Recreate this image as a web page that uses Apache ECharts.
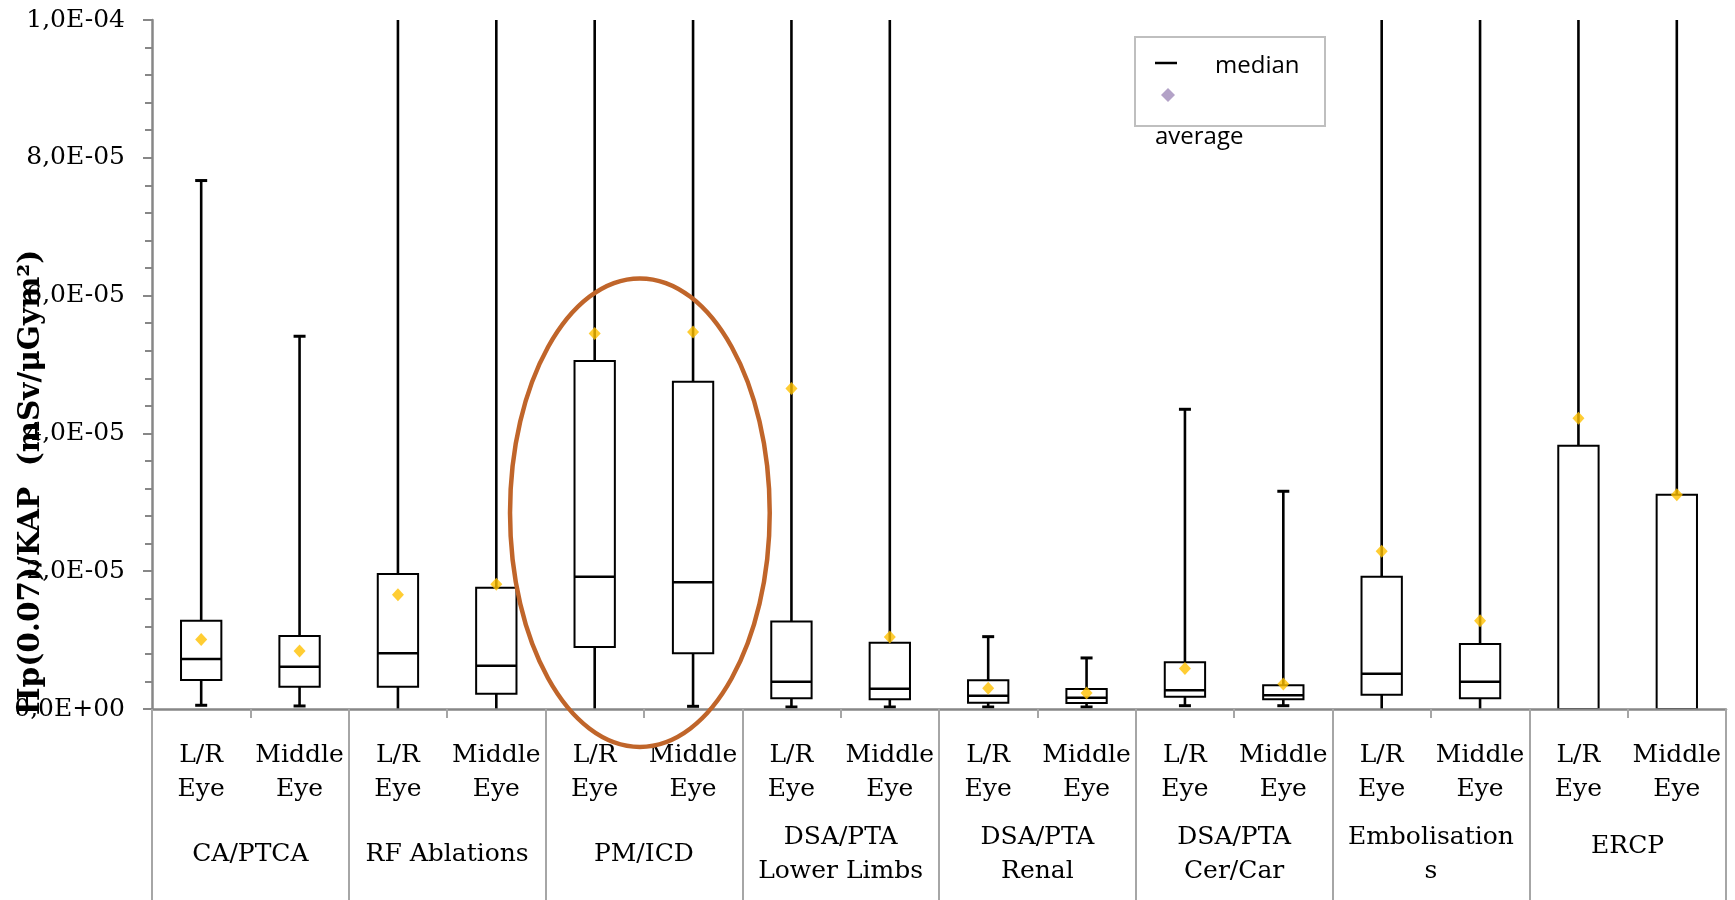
<!DOCTYPE html>
<html>
<head>
<meta charset="utf-8">
<script src="https://cdn.jsdelivr.net/npm/echarts@6/dist/echarts.min.js"></script>
<style>
  html, body { margin: 0; padding: 0; background: #ffffff; }
  #chart { width: 1735px; height: 900px; }
</style>
</head>
<body>
<div id="chart"></div>
<script>
// Eye position for each box, paired per procedure group
const eyeLabels = [
  'L/R\nEye', 'Middle\nEye', 'L/R\nEye', 'Middle\nEye',
  'L/R\nEye', 'Middle\nEye', 'L/R\nEye', 'Middle\nEye',
  'L/R\nEye', 'Middle\nEye', 'L/R\nEye', 'Middle\nEye',
  'L/R\nEye', 'Middle\nEye', 'L/R\nEye', 'Middle\nEye'
];
const procedureGroups = [
  'CA/PTCA', 'RF Ablations', 'PM/ICD', 'DSA/PTA\nLower Limbs',
  'DSA/PTA\nRenal', 'DSA/PTA\nCer/Car', 'Embolisation\ns', 'ERCP'
];

// Hp(0.07)/KAP distribution per box (mSv/µGym²)
const whiskerLow = [5.4e-7, 4.4e-7, 0, 0, 0, 3.9e-7, 2.9e-7, 2.9e-7,
                    2.9e-7, 2.9e-7, 4.8e-7, 4.8e-7, 0, 0, 0, 0];
const quartile1  = [4.2e-6, 3.24e-6, 3.24e-6, 2.22e-6, 9.0e-6, 8.09e-6, 1.55e-6, 1.40e-6,
                    9.2e-7, 8.7e-7, 1.79e-6, 1.40e-6, 2.08e-6, 1.55e-6, 0, 0];
const medians    = [7.26e-6, 6.15e-6, 8.09e-6, 6.29e-6, 1.92e-5, 1.84e-5, 3.97e-6, 2.95e-6,
                    1.94e-6, 1.65e-6, 2.71e-6, 1.98e-6, 5.13e-6, 3.97e-6, 0, 0];
const quartile3  = [1.28e-5, 1.06e-5, 1.96e-5, 1.76e-5, 5.05e-5, 4.75e-5, 1.27e-5, 9.63e-6,
                    4.16e-6, 2.9e-6, 6.78e-6, 3.44e-6, 1.92e-5, 9.44e-6, 3.82e-5, 3.11e-5];
const whiskerHigh = [7.67e-5, 5.41e-5, 1.5e-4, 1.5e-4, 1.5e-4, 1.5e-4, 1.5e-4, 1.5e-4,
                     1.05e-5, 7.41e-6, 4.35e-5, 3.16e-5, 1.5e-4, 1.5e-4, 1.5e-4, 1.5e-4];
const averages   = [1.01e-5, 8.42e-6, 1.66e-5, 1.81e-5, 5.45e-5, 5.47e-5, 4.65e-5, 1.046e-5,
                    3.0e-6, 2.32e-6, 5.86e-6, 3.63e-6, 2.29e-5, 1.28e-5, 4.22e-5, 3.11e-5];

// Value axis range and ticks
const yMin = 0;
const yMax = 1e-4;
const yStep = 2e-5;

// Highlight ring around the PM/ICD group (value-space extents)
const ringGroup = 'PM/ICD';
const ringTopValue = 6.25e-5;
const ringCenterValue = 2.85e-5;

const SERIF = '"DejaVu Serif", serif';
const SANS = '"Open Sans", "Noto Sans", sans-serif';
const AXIS_GREY = '#878787';
const SEP_GREY = '#A6A6A6';

function sciLabel(v) {
  if (v === 0) return '0,0E+00';
  const e = Math.floor(Math.log10(v) + 1e-9);
  const m = v / Math.pow(10, e);
  const ae = Math.abs(e);
  return m.toFixed(1).replace('.', ',') + 'E' + (e < 0 ? '-' : '+') + (ae < 10 ? '0' : '') + ae;
}

const gridBox = { left: 152, right: 9, top: 20, bottom: 191, outerBoundsMode: 'none' };

const chart = echarts.init(document.getElementById('chart'), null, { renderer: 'canvas' });

const boxData = eyeLabels.map((_, i) =>
  [i, whiskerLow[i], quartile1[i], medians[i], quartile3[i], whiskerHigh[i]]);
const meanData = eyeLabels.map((_, i) => [i, averages[i]]);

function renderBox(params, api) {
  const i = api.value(0);
  const cx = api.coord([i, 0])[0];
  const yOf = v => api.coord([i, v])[1];
  const low = api.value(1), q1 = api.value(2), med = api.value(3), q3 = api.value(4), high = api.value(5);
  const yLow = yOf(low), yQ1 = yOf(q1), yMed = yOf(med), yQ3 = yOf(q3), yHigh = yOf(high);
  const bw = api.size([1, 0])[0] * 0.41;
  const capW = 12;
  const ln = (x1, y1, x2, y2, w) => ({
    type: 'line', shape: { x1, y1, x2, y2 },
    style: { stroke: '#000000', lineWidth: w }
  });
  const top = params.coordSys.y;
  const kids = [
    ln(cx, yHigh, cx, yQ3, 2.6),
    ln(cx, yQ1, cx, yLow, 2.6),
    {
      type: 'rect',
      shape: { x: cx - bw / 2, y: yQ3, width: bw, height: yQ1 - yQ3 },
      style: { fill: '#ffffff', stroke: '#000000', lineWidth: 2 }
    }
  ];
  if (med > q1) kids.push(ln(cx - bw / 2, yMed, cx + bw / 2, yMed, 2.5));
  if (yHigh > top + 1) kids.push(ln(cx - capW / 2, yHigh, cx + capW / 2, yHigh, 3));
  if (low > 0) kids.push(ln(cx - capW / 2, yLow, cx + capW / 2, yLow, 3));
  return { type: 'group', children: kids };
}

const option = {
  backgroundColor: '#ffffff',
  animation: false,
  grid: [Object.assign({}, gridBox), Object.assign({}, gridBox)],
  xAxis: [
    {
      type: 'category',
      gridIndex: 0,
      data: eyeLabels,
      boundaryGap: true,
      z: 5,
      axisLine: { show: true, lineStyle: { color: AXIS_GREY, width: 2.5 } },
      axisTick: { show: true, interval: 0, length: 9, lineStyle: { color: SEP_GREY, width: 2 } },
      axisLabel: {
        interval: 0, margin: 29, color: '#000000',
        fontFamily: SERIF, fontSize: 25, lineHeight: 34
      },
      splitLine: { show: false }
    },
    {
      type: 'category',
      gridIndex: 1,
      data: procedureGroups,
      boundaryGap: true,
      position: 'bottom',
      axisLine: { show: false },
      axisTick: { show: true, interval: 0, length: 191, lineStyle: { color: SEP_GREY, width: 2 } },
      axisLabel: {
        interval: 0, margin: 145, verticalAlign: 'middle', color: '#000000',
        fontFamily: SERIF, fontSize: 25, lineHeight: 34,
        formatter: v => (v === 'ERCP' ? '{up|' + v + '}' : v),
        rich: {
          up: { fontFamily: SERIF, fontSize: 25, lineHeight: 34, color: '#000000', padding: [0, 0, 16, 0] }
        }
      },
      splitLine: { show: false }
    }
  ],
  yAxis: [
    {
      type: 'value',
      gridIndex: 0,
      min: yMin, max: yMax, interval: yStep,
      z: 5,
      name: 'Hp(0.07)/KAP  (mSv/μGym²)',
      nameLocation: 'middle',
      nameRotate: 90,
      nameGap: 106,
      nameMoveOverlap: false,
      nameTextStyle: {
        fontFamily: SERIF, fontWeight: 'bold', fontSize: 29.5, color: '#000000',
        padding: [0, 236, 0, 0]
      },
      axisLine: { show: true, lineStyle: { color: AXIS_GREY, width: 2.5 } },
      axisTick: { show: true, length: 9, lineStyle: { color: AXIS_GREY, width: 2 } },
      minorTick: { show: true, splitNumber: 5, length: 7, lineStyle: { color: AXIS_GREY, width: 2 } },
      axisLabel: {
        margin: 27, color: '#000000', fontFamily: SERIF, fontSize: 25,
        formatter: sciLabel
      },
      splitLine: { show: false },
      minorSplitLine: { show: false }
    },
    {
      type: 'value',
      gridIndex: 1,
      min: yMin, max: yMax, interval: yStep,
      show: false
    }
  ],
  series: [
    {
      name: 'box',
      type: 'custom',
      xAxisIndex: 0, yAxisIndex: 0,
      clip: true,
      z: 2,
      data: boxData,
      encode: { x: 0, y: [1, 2, 3, 4, 5] },
      renderItem: renderBox
    },
    {
      name: 'average',
      type: 'scatter',
      xAxisIndex: 0, yAxisIndex: 0,
      z: 4,
      symbol: 'diamond',
      symbolSize: [12, 13],
      itemStyle: { color: '#FFC000' },
      data: meanData
    }
  ]
};

chart.setOption(option);

// Legend block and PM/ICD ring
const ringC = chart.convertToPixel({ gridIndex: 1 }, [ringGroup, ringCenterValue]);
const ringT = chart.convertToPixel({ gridIndex: 1 }, [ringGroup, ringTopValue]);
const catW = chart.convertToPixel({ gridIndex: 0 }, [1, 0])[0] - chart.convertToPixel({ gridIndex: 0 }, [0, 0])[0];

chart.setOption({
  graphic: [
    {
      type: 'ellipse', id: 'ring', z: 100,
      shape: { cx: ringC[0] - 4, cy: ringC[1], rx: catW * 1.32, ry: ringC[1] - ringT[1] },
      style: { fill: 'none', stroke: '#C0652A', lineWidth: 4.5 }
    },
    {
      type: 'rect', id: 'legendBox', z: 100,
      shape: { x: 1135, y: 37, width: 190, height: 89 },
      style: { fill: '#ffffff', stroke: '#BFBFBF', lineWidth: 2 }
    },
    {
      type: 'line', id: 'legendMedian', z: 101,
      shape: { x1: 1155, y1: 63, x2: 1177, y2: 63 },
      style: { stroke: '#000000', lineWidth: 2.5 }
    },
    {
      type: 'polygon', id: 'legendAvg', z: 101,
      shape: { points: [[1168, 88], [1175, 95], [1168, 102], [1161, 95]] },
      style: { fill: '#B3A2C7' }
    },
    {
      type: 'text', id: 'legendMedianText', z: 101,
      style: { x: 1215, y: 66, text: 'median', fill: '#000000', font: '24px ' + SANS, verticalAlign: 'middle' }
    },
    {
      type: 'text', id: 'legendAvgText', z: 101,
      style: { x: 1155, y: 137, text: 'average', fill: '#000000', font: '24px ' + SANS, verticalAlign: 'middle' }
    }
  ]
});
</script>
</body>
</html>
